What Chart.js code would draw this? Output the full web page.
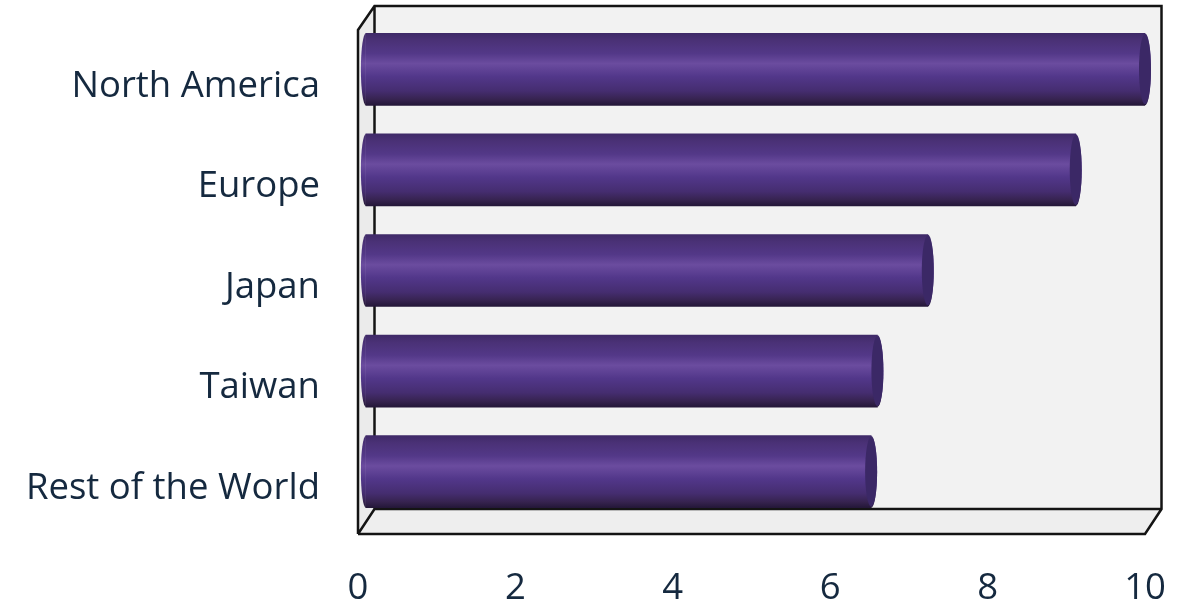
<!DOCTYPE html>
<html><head><meta charset="utf-8">
<style>html,body{margin:0;padding:0;background:#fff}#w{position:relative;width:1189px;height:603px}</style>
<script src="https://cdn.jsdelivr.net/npm/chart.js@4"></script></head>
<body><div id="w"><canvas id="c" width="1189" height="603"></canvas></div>
<script>
const categories = ["North America","Europe","Japan","Taiwan","Rest of the World"];
const values = [10, 9.12, 7.24, 6.6, 6.52];
const xTicks = [0,2,4,6,8,10];
const FONT = '"Open Sans"';
const TEXT = '#15293f';
const STOPS = [[0,'#3f2a68'],[0.1,'#4a3176'],[0.28,'#533888'],[0.42,'#6b4c9f'],[0.6,'#52378a'],[0.8,'#452d70'],[0.92,'#36234f'],[1,'#241738']];
function grad(g,top,h){const l=g.createLinearGradient(0,top,0,top+h);STOPS.forEach(s=>l.addColorStop(s[0],s[1]));return l;}
const frame = {id:'frame',
 beforeDatasetsDraw(ch){
  const g=ch.ctx,a=ch.chartArea;
  const dx=16.5;
  const L=a.left,R=a.right,T=a.top+11,B=a.bottom+12;
  const bl=L+dx,br=R+dx,bt=a.top-13,bb=a.bottom-13;
  g.save();
  g.fillStyle='#f2f2f2';g.fillRect(bl,bt,br-bl,bb-bt);
  g.fillStyle='#ebebeb';g.beginPath();g.moveTo(L,T);g.lineTo(bl,bt);g.lineTo(bl,bb);g.lineTo(L,B);g.closePath();g.fill();
  g.fillStyle='#eeeeee';g.beginPath();g.moveTo(L,B);g.lineTo(bl,bb);g.lineTo(br,bb);g.lineTo(R,B);g.closePath();g.fill();
  g.strokeStyle='#141414';g.lineWidth=2.5;g.lineJoin='miter';
  g.beginPath();
  g.moveTo(L,B);g.lineTo(L,T);g.lineTo(bl,bt);g.lineTo(br,bt);g.lineTo(br,bb);g.lineTo(R,B);g.lineTo(L,B);
  g.moveTo(L,B);g.lineTo(bl,bb);g.lineTo(br,bb);
  g.moveTo(bl,bt);g.lineTo(bl,bb);
  g.stroke();
  g.restore();
 },
 afterDatasetsDraw(ch){
  const g=ch.ctx,m=ch.getDatasetMeta(0);
  m.data.forEach(b=>{
   const h=b.height,top=b.y-h/2,cy=b.y;
   g.save();
   g.fillStyle=grad(g,top,h);
   g.beginPath();g.ellipse(b.base,cy,5,h/2,0,Math.PI/2,Math.PI*1.5);g.closePath();g.fill();
   g.beginPath();g.ellipse(b.x,cy,6,h/2,0,-Math.PI/2,Math.PI/2);g.closePath();g.fill();
   g.fillStyle='#3b2866';
   g.beginPath();g.ellipse(b.x,cy,6,h/2-1,0,0,Math.PI*2);g.fill();
   g.restore();
  });
 }};
new Chart(document.getElementById('c'),{
 type:'bar',
 data:{labels:categories,datasets:[{data:values,base:0.1,barThickness:72,borderWidth:0,
  backgroundColor(c){const a=c.chart.chartArea;if(!a||!c.element)return '#533888';const p=c.chart.scales.y.getPixelForValue(c.dataIndex);return grad(c.chart.ctx,p-36,72);}}]},
 plugins:[frame],
 options:{responsive:false,animation:false,
  layout:{padding:{left:0,right:44,top:19,bottom:0}},
  plugins:{legend:{display:false},tooltip:{enabled:false}},
  indexAxis:'y',
  scales:{
   x:{min:0,max:10,afterFit(s){s.height=81;s.paddingLeft=0;s.paddingRight=0;},afterTickToLabelConversion(s){s.ticks=xTicks.map(v=>({value:v,label:String(v)}));},
     grid:{display:false,drawTicks:false},border:{display:false},
     ticks:{stepSize:2,padding:45,maxRotation:0,color:TEXT,font:{family:FONT,size:36.5}}},
   y:{afterFit(s){s.width=358;s.paddingTop=0;s.paddingBottom=0;},grid:{display:false,drawTicks:false},border:{display:false},
     ticks:{padding:38,labelOffset:17,color:TEXT,font:{family:FONT,size:36.5}}}
  }}});
</script></body></html>
